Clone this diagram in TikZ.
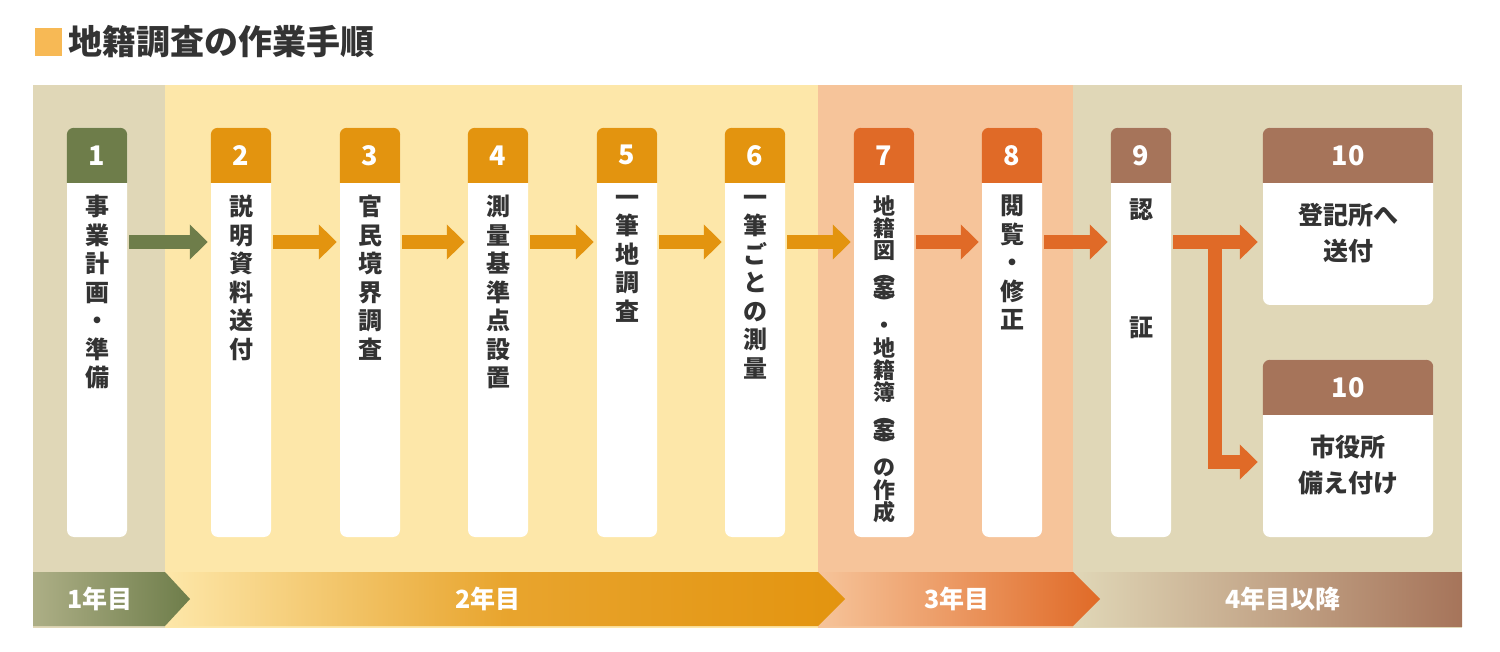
\documentclass[tikz,border=0pt]{standalone}
\usepackage{fontspec}
\setmainfont{Noto Sans CJK JP}
\usetikzlibrary{arrows.meta}

\definecolor{stepgreen}{HTML}{6E7D4A}
\definecolor{steporange}{HTML}{E3940F}
\definecolor{stepred}{HTML}{E06A27}
\definecolor{stepbrown}{HTML}{A6745A}
\definecolor{panelbeige}{HTML}{E0D7B7}
\definecolor{panelyellow}{HTML}{FDE7A9}
\definecolor{panelsalmon}{HTML}{F6C49A}
\definecolor{textgray}{HTML}{333333}
\definecolor{titleorange}{HTML}{F7B955}

\newcommand{\cardhead}[3]{%
  \fill[#2] ([yshift=-55pt]#1.north west) [rounded corners=7pt] -- (#1.north west)
    -- (#1.north east) [sharp corners] -- ([yshift=-55pt]#1.north east) -- cycle;
  \node[num] (n#1) at ([yshift=-27.5pt]#1.north) {#3};}

\begin{document}
\begin{tikzpicture}[x=1pt,y=-1pt,
  card/.style = {fill=white, rounded corners=7pt, minimum width=60pt,
                 minimum height=409pt, inner sep=0pt},
  widecard/.style = {card, minimum width=170pt, minimum height=177pt},
  num/.style = {text=white, font=\fontsize{27}{27}\selectfont\bfseries},
  vtxt/.style = {anchor=north, align=center, text=textgray, inner sep=0pt,
                 font=\fontsize{24}{28.5}\selectfont\bfseries},
  htxt/.style = {align=center, text=textgray, inner sep=0pt,
                 font=\fontsize{25}{36}\selectfont\bfseries},
  flow/.style = {line width=14pt, -{Triangle[width=34pt,length=18pt]}},
  bartxt/.style = {text=white, font=\fontsize{25}{25}\selectfont\bfseries}]

\useasboundingbox (0,0) rectangle (1500,652);

% title
\fill[titleorange] (35,28) rectangle (62,56);
\node[anchor=west, inner sep=0pt, font=\fontsize{34}{34}\selectfont\bfseries,
      text=textgray] (title) at (68,42) {地籍調査の作業手順};

% panels
\fill[panelbeige]  (33,85)   rectangle (165,628);
\fill[panelyellow] (165,85)  rectangle (818,628);
\fill[panelsalmon] (818,85)  rectangle (1073,628);
\fill[panelbeige]  (1073,85) rectangle (1462,628);

% year bar
\shade[left color=panelbeige, right color=stepbrown]
  (1073,572) -- (1462,572) -- (1462,626) -- (1073,626) -- cycle;
\shade[left color=panelsalmon, right color=stepred]
  (818,572) -- (1073,572) -- (1100,599) -- (1073,626) -- (818,626) -- cycle;
\shade[left color=panelyellow, right color=steporange, middle color=steporange!80!panelyellow]
  (165,572) -- (818,572) -- (845,599) -- (818,626) -- (165,626) -- cycle;
\shade[left color=stepgreen!45!panelbeige, right color=stepgreen]
  (33,572) -- (165,572) -- (190,599) -- (165,626) -- (33,626) -- cycle;
\node[bartxt] (y1) at (100,599) {1年目};
\node[bartxt] (y2) at (488,599) {2年目};
\node[bartxt] (y3) at (957,599) {3年目};
\node[bartxt] (y4) at (1283,599) {4年目以降};

% cards
\node[card] (c1) at (97,332.5) {};
\node[card] (c2) at (241,332.5) {};
\node[card] (c3) at (370,332.5) {};
\node[card] (c4) at (498,332.5) {};
\node[card] (c5) at (627,332.5) {};
\node[card] (c6) at (755,332.5) {};
\node[card] (c7) at (884,332.5) {};
\node[card] (c8) at (1012,332.5) {};
\node[card] (c9) at (1141,332.5) {};
\node[widecard] (c10) at (1348,216.5) {};
\node[widecard] (c11) at (1348,448.5) {};

\cardhead{c1}{stepgreen}{1}
\cardhead{c2}{steporange}{2}
\cardhead{c3}{steporange}{3}
\cardhead{c4}{steporange}{4}
\cardhead{c5}{steporange}{5}
\cardhead{c6}{steporange}{6}
\cardhead{c7}{stepred}{7}
\cardhead{c8}{stepred}{8}
\cardhead{c9}{stepbrown}{9}
\cardhead{c10}{stepbrown}{10}
\cardhead{c11}{stepbrown}{10}

\node[vtxt] (t1) at (97,195) {事\\業\\計\\画\\・\\準\\備};
\node[vtxt] (t2) at (241,195) {説\\明\\資\\料\\送\\付};
\node[vtxt] (t3) at (370,195) {官\\民\\境\\界\\調\\査};
\node[vtxt] (t4) at (498,195) {測\\量\\基\\準\\点\\設\\置};
\node[vtxt] (t5) at (627,195) {一\\筆\\地\\調\\査};
\node[vtxt] (t6) at (755,195) {一\\筆\\ご\\と\\の\\測\\量};
\node[vtxt, font=\fontsize{22}{22.3}\selectfont\bfseries] (t7) at (884,195)
  {地\\籍\\図\\︵\\[-7pt]案\\[-7pt]︶\\・\\地\\籍\\簿\\︵\\[-7pt]案\\[-7pt]︶\\の\\作\\成};
\node[vtxt] (t8) at (1012,195) {閲\\覧\\・\\修\\正};
\node[vtxt] (t9) at (1141,198) {認\\[90pt]証};
\node[htxt] (t10) at (1348,233) {登記所へ\\送付};
\node[htxt] (t11) at (1348,465) {市役所\\備え付け};

% arrows
\draw[flow, stepgreen]  ([xshift=2pt]c1.east |- 0,242) -- ([xshift=-3pt]c2.west |- 0,242);
\draw[flow, steporange] ([xshift=2pt]c2.east |- 0,242) -- ([xshift=-3pt]c3.west |- 0,242);
\draw[flow, steporange] ([xshift=2pt]c3.east |- 0,242) -- ([xshift=-3pt]c4.west |- 0,242);
\draw[flow, steporange] ([xshift=2pt]c4.east |- 0,242) -- ([xshift=-3pt]c5.west |- 0,242);
\draw[flow, steporange] ([xshift=2pt]c5.east |- 0,242) -- ([xshift=-3pt]c6.west |- 0,242);
\draw[flow, steporange] ([xshift=2pt]c6.east |- 0,242) -- ([xshift=-3pt]c7.west |- 0,242);
\draw[flow, stepred]    ([xshift=2pt]c7.east |- 0,242) -- ([xshift=-3pt]c8.west |- 0,242);
\draw[flow, stepred]    ([xshift=2pt]c8.east |- 0,242) -- ([xshift=-3pt]c9.west |- 0,242);
\draw[flow, stepred]    ([xshift=2pt]c9.east |- 0,242) -- ([xshift=-5pt]c10.west |- 0,242);
\coordinate (fork) at (1215,242);
\draw[flow, stepred] ([yshift=7pt]fork) |- ([xshift=-5pt]c11.west |- 0,462);

\end{tikzpicture}
\end{document}
